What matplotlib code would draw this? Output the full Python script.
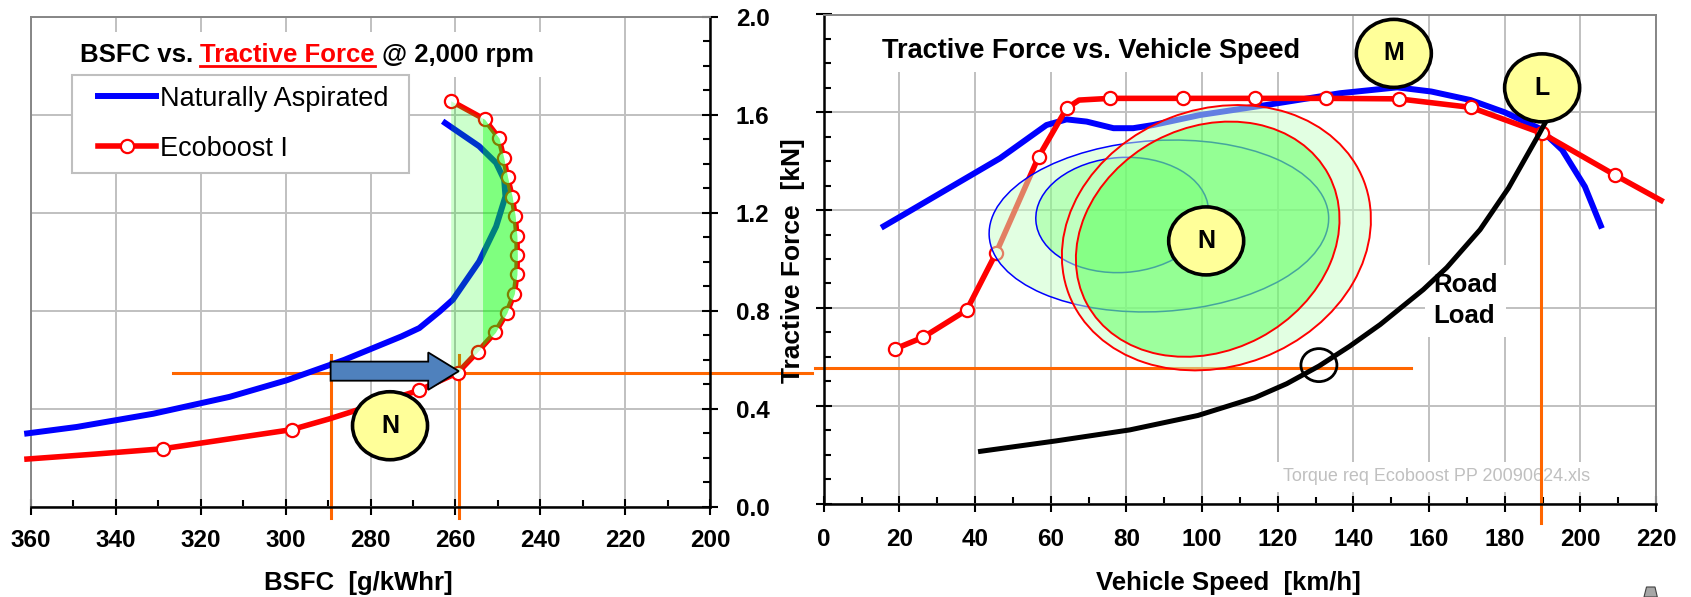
import numpy as np
import matplotlib
matplotlib.use("Agg")
import matplotlib.pyplot as plt
import matplotlib.transforms as mtrans
from matplotlib.patches import Ellipse, Rectangle, Polygon, FancyArrow
from matplotlib.lines import Line2D
from matplotlib.legend_handler import HandlerLine2D
from matplotlib.ticker import MultipleLocator, FormatStrFormatter

plt.rcParams['font.family'] = ['Liberation Sans', 'DejaVu Sans']
plt.rcParams['font.weight'] = 'bold'

W, H, DPI = 1691, 597, 100

# ---------------- Left panel: BSFC [g/kWhr] vs Tractive Force [kN] @ 2,000 rpm
na_bsfc = [361.6, 349.2, 331.2, 313.2, 299.7, 286.2, 272.7, 268.5, 263.7, 260.6,
           254.4, 250.4, 248.2, 248.5, 250.4, 254.4, 263.0]
na_tf = [0.297, 0.325, 0.379, 0.448, 0.516, 0.599, 0.695, 0.729, 0.797, 0.845,
         1.001, 1.144, 1.267, 1.335, 1.404, 1.472, 1.574]

eco_bsfc = [361.6, 345.0, 328.9, 298.6, 289.7, 268.5, 259.4, 254.7, 250.6, 247.9,
            246.1, 245.5, 245.4, 245.5, 245.9, 246.6, 247.7, 248.6, 249.7, 253.1, 261.0]
eco_tf = [0.193, 0.214, 0.236, 0.314, 0.358, 0.475, 0.547, 0.633, 0.711, 0.790,
          0.870, 0.949, 1.026, 1.105, 1.186, 1.265, 1.346, 1.424, 1.505, 1.582, 1.657]
eco_marked = [2, 3, 5, 6, 7, 8, 9, 10, 11, 12, 13, 14, 15, 16, 17, 18, 19, 20]

# operating-point guides (left)
tf_left_level = 0.545
bsfc_na_point = 289.4
bsfc_eco_point = 259.2
green_light_edge = 261.1
green_dark_edge = 253.6

# ---------------- Right panel: Tractive Force [kN] vs Vehicle Speed [km/h]
na_speed = [15.2, 20.2, 46.6, 58.9, 64.2, 69.5, 76.6, 81.8, 87.1, 99.5, 117.1,
            136.5, 151.6, 160.6, 171.0, 180.0, 189.2, 195.2, 201.2, 205.7]
na_force = [1.128, 1.173, 1.412, 1.548, 1.571, 1.562, 1.535, 1.535, 1.548, 1.589, 1.630,
            1.678, 1.702, 1.685, 1.650, 1.600, 1.534, 1.446, 1.296, 1.125]

eco_speed = [18.8, 26.3, 37.8, 45.6, 56.8, 64.2, 67.5, 75.6, 94.9, 114.0, 132.8,
             152.0, 171.1, 189.9, 209.2, 222.0]
eco_force = [0.632, 0.680, 0.791, 1.026, 1.418, 1.616, 1.650, 1.657, 1.657, 1.657, 1.657,
             1.655, 1.620, 1.514, 1.343, 1.234]
eco_speed_marked = [0, 1, 2, 3, 4, 5, 7, 8, 9, 10, 11, 12, 13, 14]

road_speed = [40.8, 61.4, 80.9, 98.9, 114.0, 122.4, 130.9, 139.0, 147.1, 158.5,
              164.7, 173.5, 181.0, 189.2, 192.9]
road_force = [0.212, 0.256, 0.301, 0.360, 0.433, 0.490, 0.562, 0.643, 0.732, 0.875,
              0.965, 1.120, 1.290, 1.514, 1.620]

tf_right_level = 0.555
speed_point = 189.6
road_point = (130.9, 0.566)

# zones (center in data, size in pixels, angle in degrees)
zone_blue_big = (88.6, 1.135, 340, 171, 3.4)
zone_blue_small = (78.9, 1.180, 173, 115, 3.9)
zone_red_outer = (103.8, 1.087, 316, 257, 21)
zone_red_inner = (101.5, 1.081, 274, 223, 28)

labels_left = [('N', 275.4, 0.330)]
labels_right = [('M', 150.7, 1.841), ('L', 189.9, 1.700), ('N', 101.1, 1.074)]

left_xticks = list(range(360, 199, -20))
right_xticks = list(range(0, 221, 20))

GRID = '#c0c0c0'
FRAME = '#868686'
ORANGE = '#ff6600'
BLUE = '#0000ff'
RED = '#ff0000'
YELLOW = '#ffff99'

fig = plt.figure(figsize=(W / DPI, H / DPI), dpi=DPI)
ax1 = fig.add_axes([31 / W, (H - 506.5) / H, 679 / W, 489.5 / H])
ax2 = fig.add_axes([823.7 / W, (H - 503.5) / H, 832.3 / W, 489 / H])


def style(ax, black, gray):
    ax.set_axisbelow(True)
    for s in black:
        ax.spines[s].set_color('black')
        ax.spines[s].set_linewidth(1.8)
    for s in gray:
        ax.spines[s].set_color(FRAME)
        ax.spines[s].set_linewidth(1.4)
    ax.xaxis.set_minor_locator(MultipleLocator(10))
    ax.yaxis.set_major_locator(MultipleLocator(0.4))
    ax.yaxis.set_minor_locator(MultipleLocator(0.1))
    ax.yaxis.set_major_formatter(FormatStrFormatter('%.1f'))
    ax.grid(True, which='major', color=GRID, lw=1.4)
    ax.tick_params(which='major', direction='inout', length=12, width=1.5,
                   labelsize=17.5, colors='black')
    ax.tick_params(which='minor', direction='in', length=5, width=1.5)
    ax.set_ylim(0, 2.0)


style(ax1, ['bottom', 'right'], ['left', 'top'])
style(ax2, ['bottom', 'left'], ['right', 'top'])

ax1.set_xlim(360, 200)
ax1.set_xticks(left_xticks)
ax1.yaxis.tick_right()
ax1.tick_params(axis='y', which='both', left=False, right=True, labelleft=False,
                labelright=True)
ax1.tick_params(axis='y', which='major', pad=12.5)
ax1.tick_params(axis='x', which='major', pad=10.5)

ax2.set_xlim(0, 220)
ax2.set_xticks(right_xticks)
ax2.tick_params(axis='y', which='both', left=True, right=False, labelleft=False)
ax2.tick_params(axis='x', which='major', pad=11.5)


def px_ellipse(ax, x, y, w, h, angle=0, **kw):
    tr = mtrans.ScaledTranslation(x, y, ax.transData)
    e = Ellipse((0, 0), w, h, angle=angle, transform=tr, **kw)
    ax.add_patch(e)
    return e


def letter_badge(ax, txt, x, y):
    px_ellipse(ax, x, y, 75, 68, facecolor=YELLOW, edgecolor='black', lw=2.6,
               zorder=7, clip_on=False)
    ax.text(x, y, txt, ha='center', va='center', fontsize=18, fontweight='bold',
            zorder=8)


# ---------------- left panel drawing
ax1.plot([326.5, 176.0], [tf_left_level] * 2, color=ORANGE, lw=2.2, zorder=2, clip_on=False)
for b in (bsfc_na_point, bsfc_eco_point):
    ax1.plot([b, b], [0.62, -0.047], color=ORANGE, lw=2.2, zorder=2, clip_on=False)

ax1.plot(na_bsfc, na_tf, color=BLUE, lw=4.3, zorder=3, clip_on=False,
         solid_capstyle='butt')
ax1.plot(eco_bsfc, eco_tf, color=RED, lw=4, marker='o', markevery=eco_marked,
         ms=9.5, mfc='white', mec=RED, mew=1.6, zorder=3, clip_on=False,
         solid_capstyle='butt')

tf_grid = np.linspace(min(eco_tf), max(eco_tf), 800)
red_at = np.interp(tf_grid, eco_tf, eco_bsfc)
ax1.fill_betweenx(tf_grid, green_light_edge, red_at, where=red_at <= green_light_edge,
                  color='#00ff00', alpha=0.2, lw=0, zorder=4, interpolate=True)
ax1.fill_betweenx(tf_grid, green_dark_edge, red_at, where=red_at <= green_dark_edge,
                  color='#00ff00', alpha=0.375, lw=0, zorder=4, interpolate=True)

ax1.add_patch(FancyArrow(bsfc_na_point, 0.553, bsfc_eco_point - bsfc_na_point, 0,
                         width=0.078, head_width=0.153, head_length=7.2,
                         length_includes_head=True, fc='#4f81bd', ec='black',
                         lw=1.3, zorder=5))
for t, x, y in labels_left:
    letter_badge(ax1, t, x, y)

# white box behind left title
ax1.add_patch(Rectangle((68, H - 76.7), 488, 45, transform=None, facecolor='white',
                        edgecolor='none', zorder=1))

leg_handles = [Line2D([], [], color=BLUE, lw=4.3),
               Line2D([], [], color=RED, lw=4, marker='o', ms=9.5, mfc='white',
                      mec=RED, mew=1.6)]
leg = ax1.legend(leg_handles, ['Naturally Aspirated', 'Ecoboost I'],
                 loc='upper left', bbox_to_anchor=(72 / W, (H - 176) / H, 337 / W, 101 / H),
                 bbox_transform=fig.transFigure, mode='expand', borderaxespad=0,
                 borderpad=0.4, handlelength=2.69, handletextpad=0.15, labelspacing=0.89,
                 prop={'size': 19.5, 'weight': 'normal'}, fancybox=False, framealpha=1,
                 edgecolor='#bfbfbf',
                 handler_map={Line2D: HandlerLine2D(numpoints=1, xpad=0.547)})
leg.get_frame().set_linewidth(1.5)
leg.set_zorder(6)

# ---------------- right panel drawing
ax2.plot([-2.3, 155.3], [tf_right_level] * 2, color=ORANGE, lw=2.2, zorder=2, clip_on=False)
ax2.plot([speed_point, speed_point], [1.514, -0.08], color=ORANGE, lw=2.2, zorder=2,
         clip_on=False)

ax2.plot(na_speed, na_force, color=BLUE, lw=4.3, zorder=3, solid_capstyle='butt')
ax2.plot(eco_speed, eco_force, color=RED, lw=4, marker='o', markevery=eco_speed_marked,
         ms=9.5, mfc='white', mec=RED, mew=1.6, zorder=3, clip_on=False,
         solid_capstyle='butt')
ax2.plot(road_speed, road_force, color='black', lw=3.6, zorder=3, solid_capstyle='butt')

x, y, w, h, a = zone_blue_big
px_ellipse(ax2, x, y, w, h, a, facecolor=(0.78, 1, 0.78, 0.5), edgecolor=BLUE, lw=1.1, zorder=4.0)
x, y, w, h, a = zone_blue_small
px_ellipse(ax2, x, y, w, h, a, facecolor=(0, 1, 0, 0.18), edgecolor=BLUE, lw=1.1, zorder=4.1)
x, y, w, h, a = zone_red_outer
px_ellipse(ax2, x, y, w, h, a, facecolor=(0.78, 1, 0.78, 0.5), edgecolor=RED, lw=1.4, zorder=4.2)
x, y, w, h, a = zone_red_inner
px_ellipse(ax2, x, y, w, h, a, facecolor=(0, 1, 0, 0.3), edgecolor=RED, lw=1.4, zorder=4.3)

px_ellipse(ax2, road_point[0], road_point[1], 36, 33, facecolor='none',
           edgecolor='black', lw=2.0, zorder=5)
for t, x, y in labels_right:
    letter_badge(ax2, t, x, y)

ax2.text(161.1, 0.830, 'Road\nLoad', ha='left', va='center', fontsize=18.5,
         fontweight='bold', linespacing=1.4, zorder=1.5,
         bbox=dict(facecolor='white', edgecolor='none', pad=6))

ax2.add_patch(Rectangle((119.9, 0.045), 100.1, 0.125, facecolor='white',
                        edgecolor='none', zorder=1))
ax2.text(121.3, 0.112, 'Torque req Ecoboost PP 20090624.xls', ha='left', va='center',
         fontsize=13, fontweight='normal', color='#c0c0c0', zorder=1.2)

ax2.add_patch(Rectangle((866, H - 71.7), 464, 60, transform=None, facecolor='white',
                        edgecolor='none', zorder=1))

# ---------------- titles and axis labels
fig.text(882 / W, 1 - 58.3 / H, 'Tractive Force vs. Vehicle Speed', ha='left',
         va='baseline', fontsize=19.5, fontweight='bold', zorder=6)

renderer = fig.canvas.get_renderer()
fs_t = 18.5
space_px = 0.278 * fs_t * DPI / 72
xcur = 80.0
base = 61.7
for s, c, ul in [('BSFC vs.', 'black', False), ('Tractive Force', RED, True),
                 ('@ 2,000 rpm', 'black', False)]:
    t = fig.text(xcur / W, 1 - base / H, s, color=c, fontsize=fs_t, fontweight='bold',
                 ha='left', va='baseline', zorder=6)
    bb = t.get_window_extent(renderer)
    if ul:
        fig.add_artist(Line2D([bb.x0, bb.x1], [H - base - 4.6] * 2, color=c, lw=2.0,
                              transform=None, zorder=6))
    xcur = bb.x1 + space_px

fig.text(358 / W, 1 - 590 / H, 'BSFC  [g/kWhr]', ha='center', va='baseline',
         fontsize=18.5, fontweight='bold')
fig.text(1228 / W, 1 - 590 / H, 'Vehicle Speed  [km/h]', ha='center', va='baseline',
         fontsize=18.5, fontweight='bold')
fig.text(792.6 / W, 1 - 261 / H, 'Tractive Force  [kN]', ha='center', va='center',
         rotation=90, fontsize=19, fontweight='bold')

# small grey artefact at the bottom right corner
fig.add_artist(Polygon([(1644, 0), (1646.5, 10), (1655, 10), (1657.3, 0)], closed=True,
                       transform=None, facecolor='#a6a6a6', edgecolor='#404040', lw=0.8))

fig.savefig('out.png', dpi=DPI)
